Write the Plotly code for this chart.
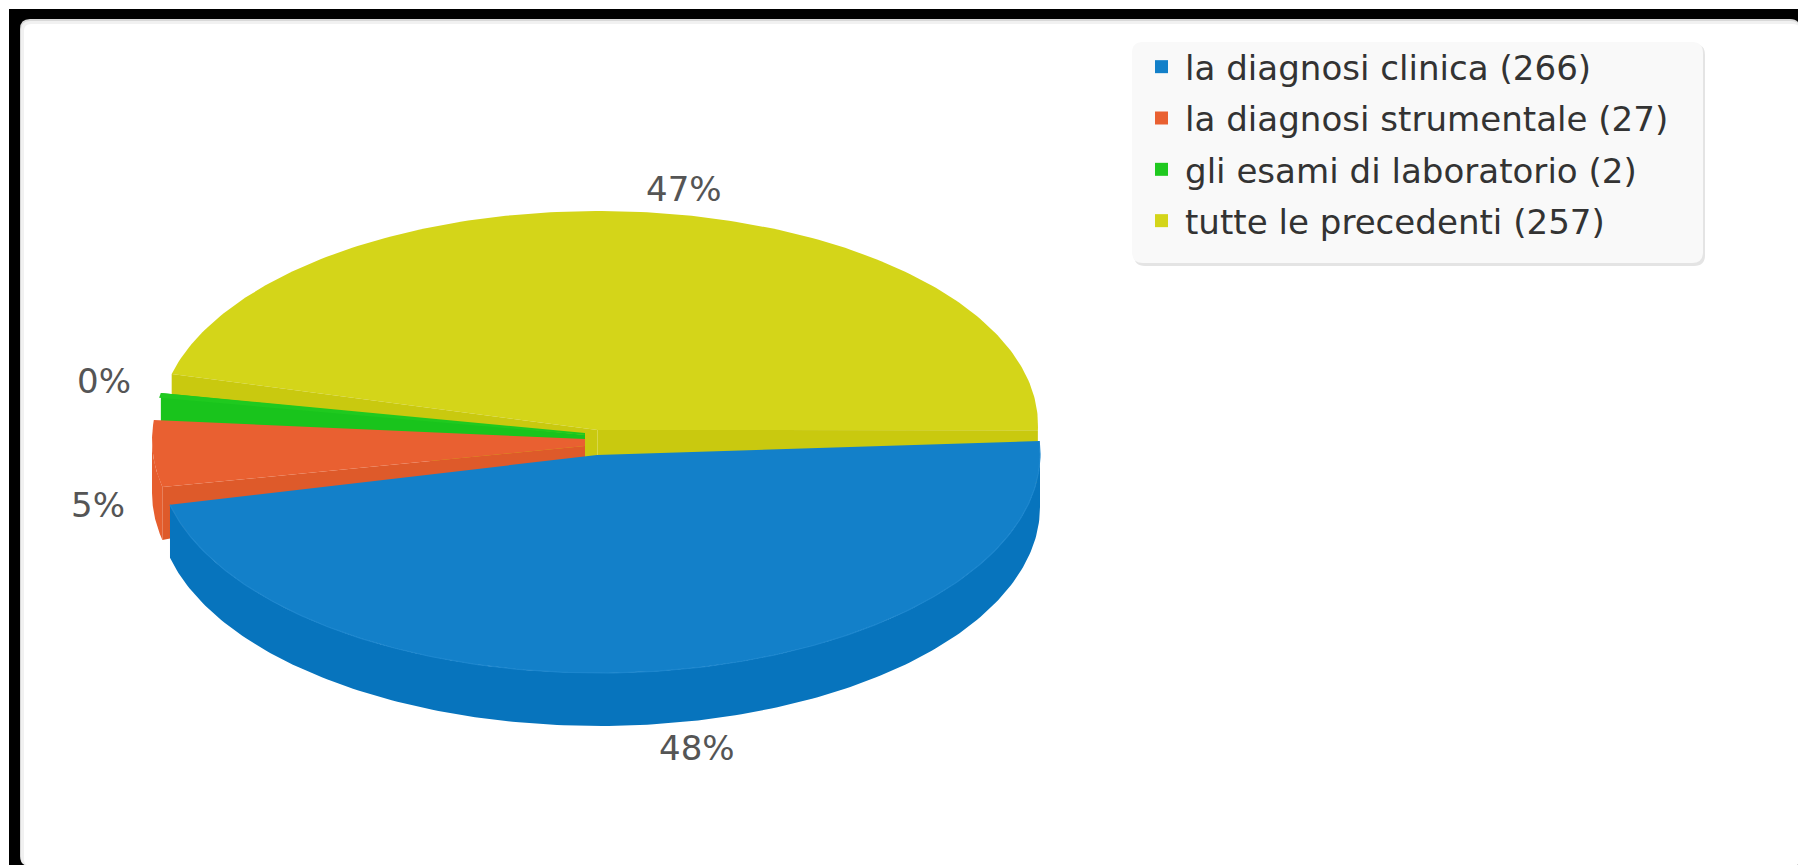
import numpy as np
import plotly.graph_objects as go

# ---- data ----
categories = ["la diagnosi clinica", "la diagnosi strumentale", "gli esami di laboratorio", "tutte le precedenti"]
values = [266, 27, 2, 257]
top_colors = ["#1380c9", "#e96031", "#1fc91f", "#d4d519"]
side_colors = ["#0774bd", "#e65e2e", "#19c41c", "#c9c90f"]
orange_wall = "#de5a2a"
blue_rim = "#1c86ce"

total = sum(values)
sweeps = [v / total * 360 for v in values]
percents = [f"{round(v / total * 100)}%" for v in values]

# ---- pie geometry: one ellipse per exploded slice (page pixels) ----
DEPTH = 53
blue_g = dict(cx=599, cy=454, rx=441, ry=219, start=-3.4, k=0.98, tip=[(597, 455)])
orange_g = dict(cx=597, cy=440, rx=445, ry=219, start=167.6, tip=[(585, 439), (585, 446)])
green_g = dict(cx=597, cy=434, rx=444, ry=219, start=189.5, tip=[(585, 433), (585, 435)])
yellow_g = dict(cx=598.5, cy=425, rx=439.5, ry=214, start=193.8, tip=[(597.5, 430)])


def arc(g, sweep, dy=0, n=200, front_only=False):
    t0, t1 = g["start"], g["start"] + sweep * g.get("k", 1)
    if front_only:  # only the part of the rim that faces the viewer has a visible outer side
        t0, t1 = max(t0, 0), min(t1, 180)
    t = np.radians(np.linspace(t0, t1, n))
    return g["cx"] + g["rx"] * np.cos(t), g["cy"] + g["ry"] * np.sin(t) + dy


fig = go.Figure()


def poly(xs, ys, color):
    fig.add_trace(go.Scatter(x=list(xs), y=list(ys), mode="lines", fill="toself", fillcolor=color,
                             line=dict(width=0, color=color), hoverinfo="skip", showlegend=False))


def surface(g, sweep, color):
    ax, ay = arc(g, sweep)
    poly(list(ax) + [p[0] for p in g["tip"]], list(ay) + [p[1] for p in g["tip"]], color)


def side(g, sweep, color):
    ax, ay = arc(g, sweep, front_only=True)
    bx, by = arc(g, sweep, DEPTH, front_only=True)
    poly(list(ax) + list(bx[::-1]), list(ay) + list(by[::-1]), color)


def wall(g, sweep_at, color, tip_top, tip_bottom):
    ax, ay = arc(g, sweep_at, n=2)
    x0, y0 = ax[-1], ay[-1]
    poly([x0, tip_top[0], tip_bottom[0], x0], [y0, tip_top[1], tip_bottom[1], y0 + DEPTH], color)


# yellow: surface, then its two inner walls
surface(yellow_g, sweeps[3], top_colors[3])
wall(yellow_g, 0, side_colors[3], (597.5, 430), (597.5, 483))
wall(yellow_g, sweeps[3], side_colors[3], (597.5, 430), (597.5, 483))

# green
wall(green_g, sweeps[2], side_colors[2], (585, 435), (585, 443))
surface(green_g, sweeps[2], top_colors[2])

# orange
side(orange_g, sweeps[1], side_colors[1])
wall(orange_g, 0, orange_wall, (585, 446), (585, 457))
surface(orange_g, sweeps[1], top_colors[1])

# blue
side(blue_g, sweeps[0], side_colors[0])
surface(blue_g, sweeps[0], top_colors[0])
rx_, ry_ = arc(blue_g, sweeps[0])
fig.add_trace(go.Scatter(x=list(rx_), y=list(ry_), mode="lines", line=dict(width=1.2, color=blue_rim),
                         hoverinfo="skip", showlegend=False))

# legend entries
for i, (c, v, col) in enumerate(zip(categories, values, top_colors)):
    fig.add_trace(go.Scatter(x=[None], y=[None], mode="markers", name=f"{c} ({v})", legendgroup=str(i),
                             marker=dict(symbol="square", size=13, color=col)))


def rounded(x0, y0, x1, y1, r):
    return (f"M{x0+r},{y0} L{x1-r},{y0} Q{x1},{y0} {x1},{y0+r} L{x1},{y1-r} Q{x1},{y1} {x1-r},{y1} "
            f"L{x0+r},{y1} Q{x0},{y1} {x0},{y1-r} L{x0},{y0+r} Q{x0},{y0} {x0+r},{y0} Z")


def shape_path(path, fill):
    return dict(type="path", path=path, xref="x", yref="y", fillcolor=fill, line=dict(width=0), layer="below")


shapes = [
    dict(type="rect", xref="x", yref="y", x0=9, y0=9, x1=1798, y1=865, fillcolor="#000000",
         line=dict(width=0), layer="below"),
    shape_path(rounded(20, 19, 1800, 866, 10), "#d8d8d8"),
    shape_path(rounded(21, 21, 1800, 866, 9), "#f1f1f1"),
    shape_path(rounded(24, 24, 1800, 866, 7), "#ffffff"),
    shape_path(rounded(1134, 44, 1705, 266, 11), "#e4e4e4"),
    shape_path(rounded(1132, 42, 1703, 263, 11), "#f9f9f9"),
]

label_pos = [(697, 748), (97.5, 505), (103.5, 381), (684, 189)]
annotations = [dict(x=x, y=y, text=t, showarrow=False, xref="x", yref="y", xanchor="center", yanchor="middle",
                    font=dict(family="DejaVu Sans", size=34, color="#555555"))
               for (x, y), t in zip(label_pos, percents)]

fig.update_layout(
    width=1798, height=865, margin=dict(l=0, r=0, t=0, b=0), autosize=False,
    paper_bgcolor="#ffffff", plot_bgcolor="rgba(0,0,0,0)",
    xaxis=dict(range=[0, 1798], visible=False, fixedrange=True),
    yaxis=dict(range=[865, 0], visible=False, fixedrange=True),
    shapes=shapes, annotations=annotations,
    legend=dict(x=1138 / 1798, y=1 - 38 / 865, xanchor="left", yanchor="top", bgcolor="rgba(0,0,0,0)",
                borderwidth=0, itemwidth=37, tracegroupgap=4, traceorder="grouped",
                font=dict(family="DejaVu Sans", size=34.1, color="#333333")),
)

fig.write_html("out.html", config=dict(displayModeBar=False),
               post_script="document.body.style.margin='0';document.body.style.overflow='hidden';")
